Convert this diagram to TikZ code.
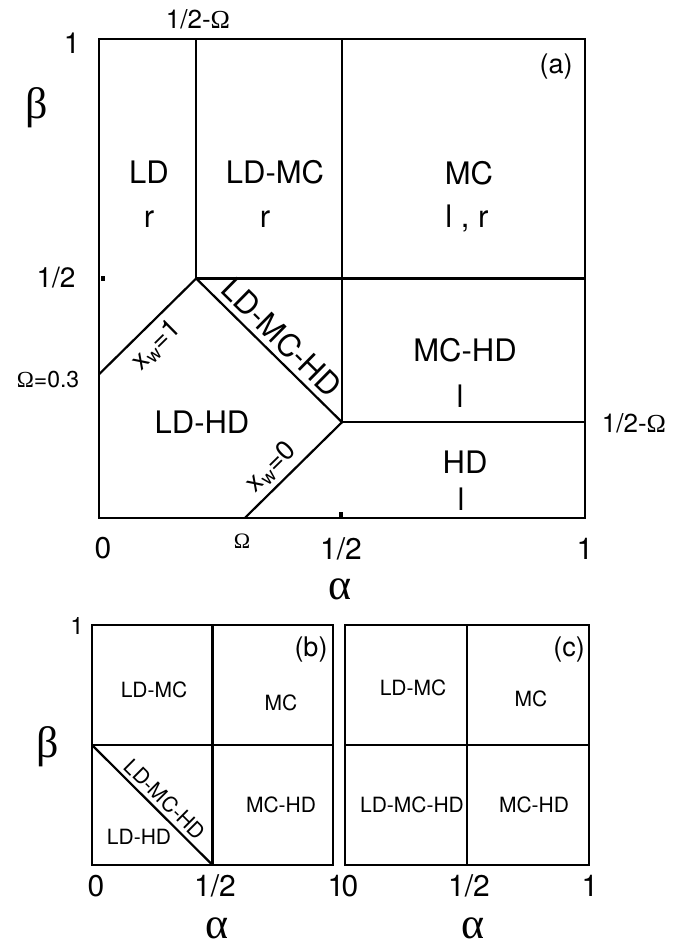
\documentclass[tikz,border=0pt]{standalone}
\usepackage{fontspec}
\setmainfont{TeX Gyre Heros}
\newfontfamily\grk{Liberation Serif}

\begin{document}
\begin{tikzpicture}[x=1pt,y=-1pt]
  \tikzstyle{frame}=[line width=2.8pt]
  \tikzstyle{phase}=[line width=2.2pt]
  \tikzstyle{big}=[font=\fontsize{31}{36}\selectfont,inner sep=0pt,anchor=base]
  \tikzstyle{small}=[font=\fontsize{21}{25}\selectfont,inner sep=0pt]
  \tikzstyle{tick}=[font=\fontsize{30}{34}\selectfont,inner sep=0pt]
  \tikzstyle{omg}=[font=\fontsize{26}{30}\selectfont,inner sep=0pt]
  \tikzstyle{panel}=[font=\fontsize{27}{32}\selectfont,inner sep=0pt]
  \tikzstyle{axis}=[font=\fontsize{44}{50}\selectfont\grk,inner sep=0pt]
  \useasboundingbox (0,0) rectangle (683,944);

  % (a)
  \begin{scope}[shift={(99pt,-518pt)},x=486pt,y=479pt]
    \coordinate (top) at (0.2,0.5);
    \coordinate (mid) at (0.5,0.2);
    \draw[frame] (0,0) rectangle (1,1);
    \draw[phase] (0.2,1) -- (top) -- (1,0.5);
    \draw[phase] (0.5,1) -- (mid) -- (1,0.2);
    \draw[phase] (0,0.3) -- (top)
      node[pos=0.45,sloped,below,inner sep=7pt,font=\fontsize{27}{30}\selectfont] (xwone) {x\textsubscript{w}=1};
    \draw[phase] (top) -- (mid)
      node[midway,sloped,above,inner sep=5pt,font=\fontsize{31}{36}\selectfont] (ldmchd) {LD-MC-HD};
    \draw[phase] (0.3,0) -- (mid)
      node[pos=0.4,sloped,above,inner sep=5pt,font=\fontsize{27}{30}\selectfont] (xwzero) {x\textsubscript{w}=0};
  \end{scope}
  \fill (101,276) rectangle (105,281);
  \fill (339,512) rectangle (343,517);

  \node[big] (ld) at (149,183) {LD};
  \node[big] (ldr) at (149,227) {r};
  \node[big] (ldmc) at (275,183) {LD-MC};
  \node[big] (ldmcr) at (265,227) {r};
  \node[big] (mc) at (469,185) {MC};
  \node[big] (mclr) at (467,227) {l , r};
  \node[big] (mchd) at (465,361) {MC-HD};
  \node[big] (mchdl) at (460,407) {l};
  \node[big] (ldhd) at (202,433) {LD-HD};
  \node[big] (hd) at (465,473) {HD};
  \node[big] (hdl) at (461,510) {l};
  \node[panel] (pa) at (556,67) {(a)};

  \node[tick,font=\fontsize{29}{34}\selectfont] (aone) at (72,43) {1};
  \node[omg] (ahalfomg) at (198,19) {1/2-{\grk Ω}};
  \node[axis] (abeta) at (37,108) {β};
  \node[tick,font=\fontsize{28}{34}\selectfont] (ahalf) at (56,278) {1/2};
  \node[inner sep=0pt,font=\fontsize{23}{27}\selectfont] (aomg) at (48,380) {{\grk Ω}=0.3};
  \node[omg] (rhalfomg) at (634,423) {1/2-{\grk Ω}};
  \node[tick] (azero) at (103,548) {0};
  \node[inner sep=0pt,font=\fontsize{22}{26}\selectfont\grk] (xomg) at (242,541) {Ω};
  \node[tick] (xhalf) at (341,549) {1/2};
  \node[tick] (xone) at (585,549) {1};
  \node[axis,anchor=base] (aalpha) at (340,599) {α};

  % (b)
  \begin{scope}[shift={(92pt,-865pt)},x=241pt,y=240pt]
    \draw[frame] (0,0) rectangle (1,1);
    \draw[phase] (0.5,0) -- (0.5,1);
    \draw[phase] (0,0.5) -- (1,0.5);
    \draw[phase] (0,0.5) -- (0.5,0)
      node[pos=0.53,sloped,above,inner sep=4pt,font=\fontsize{21}{25}\selectfont] (bldmchd) {LD-MC-HD};
  \end{scope}
  \node[small] (bldmc) at (154,690) {LD-MC};
  \node[small] (bmc) at (281,703) {MC};
  \node[small] (bldhd) at (139,837) {LD-HD};
  \node[small] (bmchd) at (281,805) {MC-HD};
  \node[panel] (pb) at (311,650) {(b)};
  \node[tick,font=\fontsize{24}{28}\selectfont] (bone) at (77,626) {1};
  \node[axis] (bbeta) at (48,747) {β};
  \node[tick] (bzero) at (96,886) {0};
  \node[tick] (bhalf) at (215,886) {1/2};
  \node[tick] (bend) at (336,886) {1};
  \node[axis,anchor=base] (balpha) at (217,938) {α};

  % (c)
  \begin{scope}[shift={(345pt,-865pt)},x=244pt,y=240pt]
    \draw[frame] (0,0) rectangle (1,1);
    \draw[phase] (0.5,0) -- (0.5,1);
    \draw[phase] (0,0.5) -- (1,0.5);
  \end{scope}
  \node[small] (cldmc) at (413,688) {LD-MC};
  \node[small] (cmc) at (531,699) {MC};
  \node[small] (cldmchd) at (412,805) {LD-MC-HD};
  \node[small] (cmchd) at (534,805) {MC-HD};
  \node[panel] (pc) at (569,650) {(c)};
  \node[tick] (czero) at (350,886) {0};
  \node[tick] (chalf) at (469,886) {1/2};
  \node[tick] (cone) at (590,886) {1};
  \node[axis,anchor=base] (calpha) at (473,938) {α};
\end{tikzpicture}
\end{document}
